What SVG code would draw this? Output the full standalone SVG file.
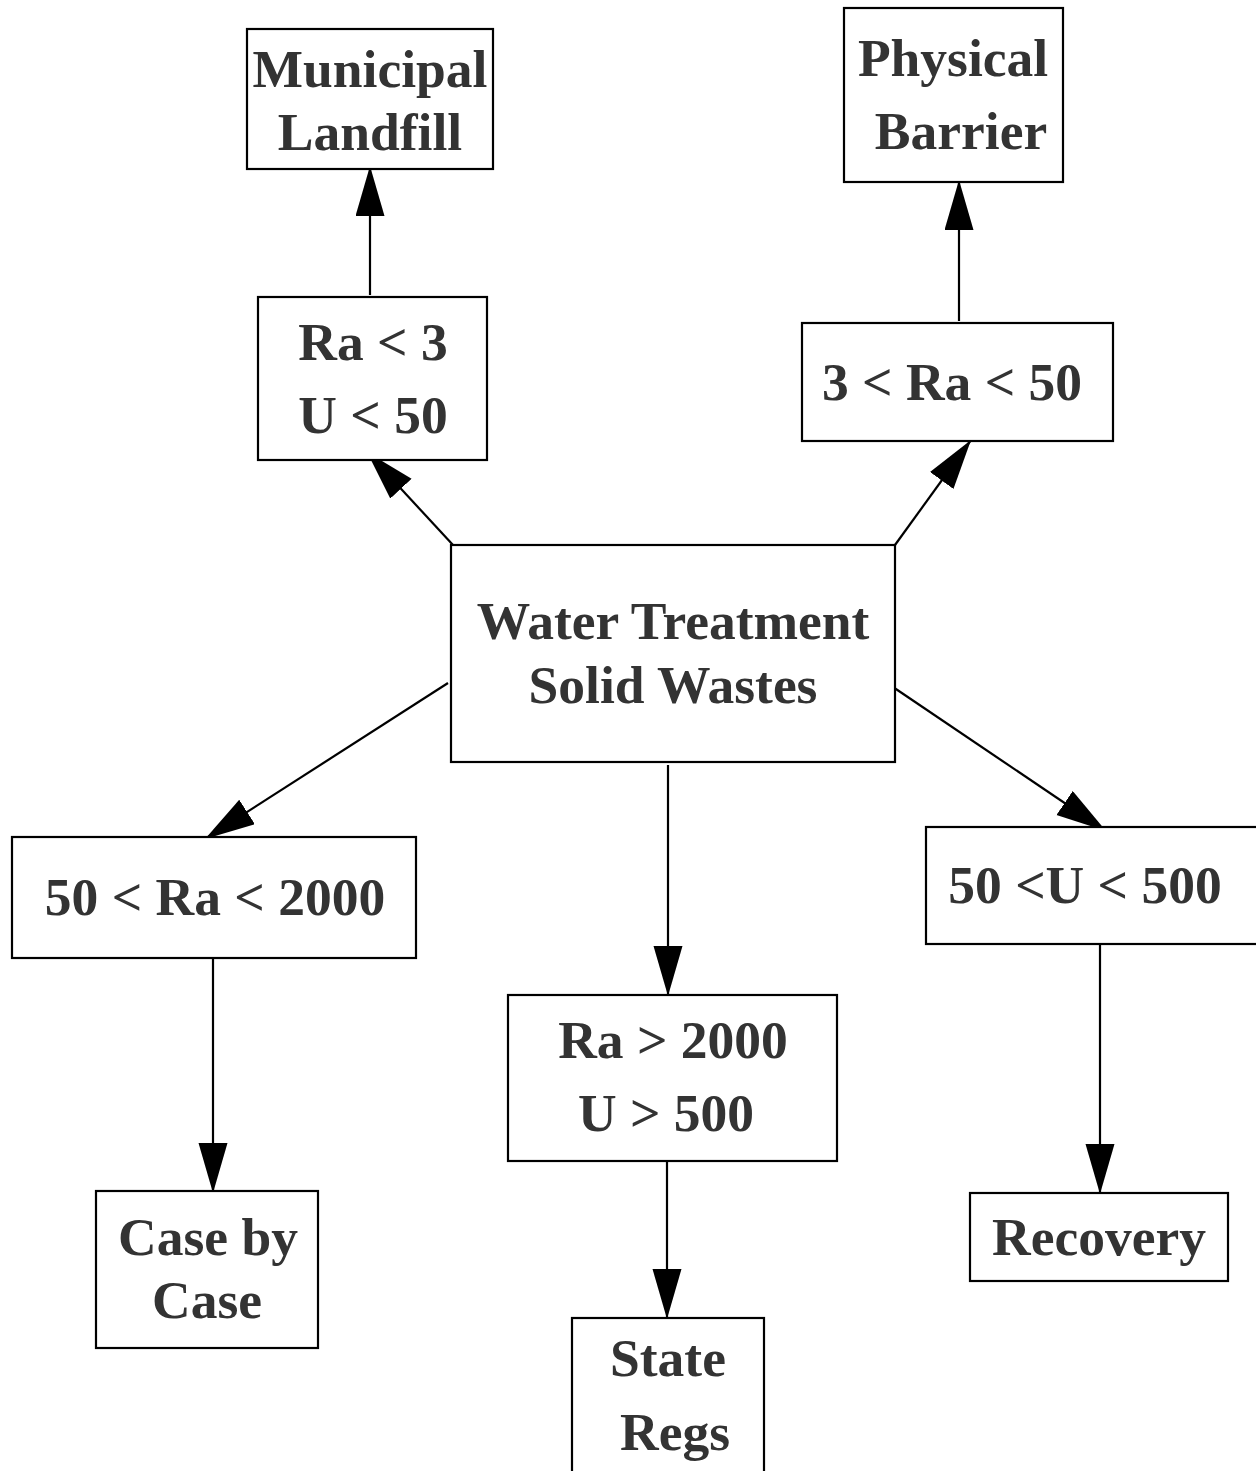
<svg xmlns="http://www.w3.org/2000/svg" width="1256" height="1471" viewBox="0 0 1256 1471">
<defs>
<style>
.box{fill:#fff;stroke:#000;stroke-width:2.2}
.t{font-family:"Liberation Serif","Times New Roman",serif;font-weight:bold;font-size:53.5px;fill:#333;text-anchor:middle}
.c{stroke:#000;stroke-width:2.2;fill:none;marker-end:url(#ah)}
</style>
<marker id="ah" markerUnits="userSpaceOnUse" markerWidth="52" markerHeight="30" refX="50" refY="14.5" orient="auto" viewBox="0 0 52 30">
<path d="M0,0 L50,14.5 L0,29 z" fill="#000"/>
</marker>
</defs>
<rect width="1256" height="1471" fill="#fff"/>
<g id="connectors">
<line class="c" x1="370" y1="295" x2="370" y2="166"/>
<line class="c" x1="959" y1="321" x2="959" y2="180"/>
<line class="c" x1="453" y1="545" x2="367" y2="452"/>
<line class="c" x1="895" y1="545" x2="971" y2="440"/>
<line class="c" x1="448" y1="683" x2="205" y2="839"/>
<line class="c" x1="890" y1="685" x2="1106" y2="831"/>
<line class="c" x1="668" y1="765" x2="668" y2="996"/>
<line class="c" x1="213" y1="958" x2="213" y2="1193"/>
<line class="c" x1="667" y1="1161" x2="667" y2="1319"/>
<line class="c" x1="1100" y1="944" x2="1100" y2="1194"/>
</g>
<g id="municipal-landfill">
<rect class="box" x="247" y="29" width="246" height="140"/>
<text class="t" x="370" y="87">Municipal</text>
<text class="t" x="370" y="150">Landfill</text>
</g>
<g id="physical-barrier">
<rect class="box" x="844" y="8" width="219" height="174"/>
<text class="t" x="953" y="76">Physical</text>
<text class="t" x="961" y="149">Barrier</text>
</g>
<g id="ra3-u50">
<rect class="box" x="258" y="297" width="229" height="163"/>
<text class="t" x="373" y="360">Ra &lt; 3</text>
<text class="t" x="373" y="433">U &lt; 50</text>
</g>
<g id="ra3-50">
<rect class="box" x="802" y="323" width="311" height="118"/>
<text class="t" x="952" y="400">3 &lt; Ra &lt; 50</text>
</g>
<g id="water-treatment">
<rect class="box" x="451" y="545" width="444" height="217"/>
<text class="t" x="673" y="639">Water Treatment</text>
<text class="t" x="673" y="703">Solid Wastes</text>
</g>
<g id="ra50-2000">
<rect class="box" x="12" y="837" width="404" height="121"/>
<text class="t" x="215" y="915">50 &lt; Ra &lt; 2000</text>
</g>
<g id="ra2000-u500">
<rect class="box" x="508" y="995" width="329" height="166"/>
<text class="t" x="673" y="1058">Ra &gt; 2000</text>
<text class="t" x="666" y="1131">U &gt; 500</text>
</g>
<g id="u50-500">
<rect class="box" x="926" y="827" width="332" height="117"/>
<text class="t" x="1085" y="903">50 &lt;U &lt; 500</text>
</g>
<g id="case-by-case">
<rect class="box" x="96" y="1191" width="222" height="157"/>
<text class="t" x="208" y="1255">Case by</text>
<text class="t" x="207" y="1318">Case</text>
</g>
<g id="state-regs">
<rect class="box" x="572" y="1318" width="192" height="155"/>
<text class="t" x="668" y="1376">State</text>
<text class="t" x="675" y="1450">Regs</text>
</g>
<g id="recovery">
<rect class="box" x="970" y="1193" width="258" height="88"/>
<text class="t" x="1099" y="1255">Recovery</text>
</g>
</svg>
